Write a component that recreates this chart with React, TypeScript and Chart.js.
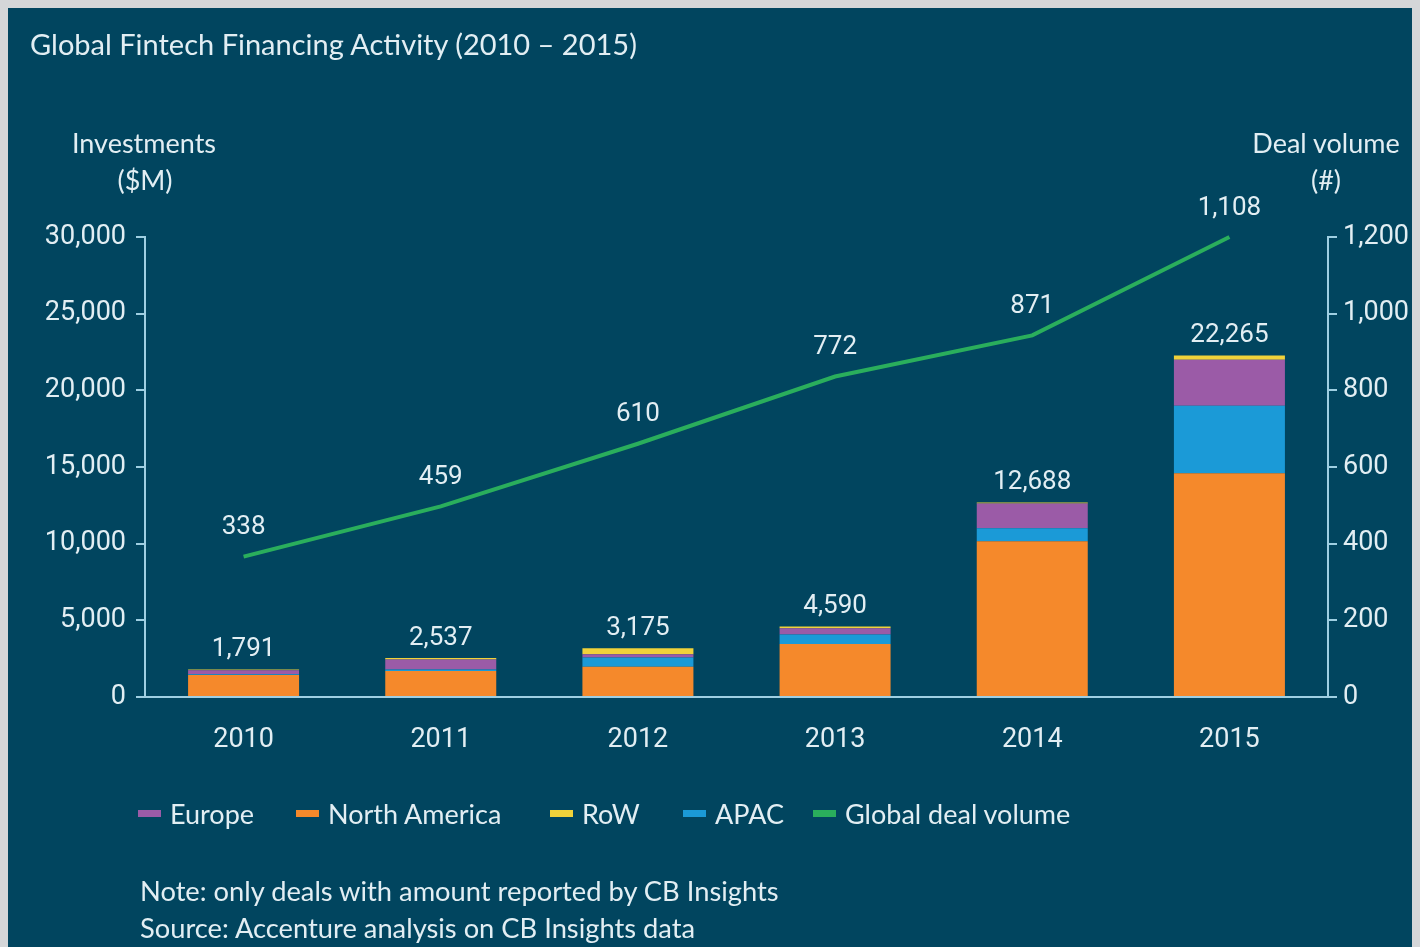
import React, { useEffect, useRef } from "react";
import { Chart, registerables } from "chart.js";

Chart.register(...registerables);

// ---- data ----
const years = ["2010", "2011", "2012", "2013", "2014", "2015"];
const northAmerica = [1440, 1700, 1980, 3460, 10150, 14600];
const apac = [50, 100, 600, 620, 850, 4400];
const europe = [260, 650, 200, 400, 1620, 3000];
const rowRegion = [41, 87, 395, 110, 68, 265];
const dealVolume = [338, 459, 610, 772, 871, 1108];
const leftTickValues = [0, 5000, 10000, 15000, 20000, 25000, 30000];
const rightTickValues = [0, 200, 400, 600, 800, 1000, 1200];
const legendOrder = ["Europe", "North America", "RoW", "APAC", "Global deal volume"];

// ---- styles ----
const BG = "#01455f";
const TEXT = "#e2eef3";
const AXIS = "#9fcfe2";
const ORANGE = "#f5892b";
const BLUE = "#1b9ad7";
const PURPLE = "#9b5ba7";
const YELLOW = "#f0d23a";
const GREEN = "#2aae5c";
const NUM_FONT = "Roboto";
const TXT_FONT = "Lato";
const LEGEND_LEFTS = [138, 296, 550, 683, 813];

const colorOf: Record<string, string> = {
  Europe: PURPLE,
  "North America": ORANGE,
  RoW: YELLOW,
  APAC: BLUE,
  "Global deal volume": GREEN,
};

const fmt = (v: number) => Number(v).toLocaleString("en-US");

const valueLabels = {
  id: "valueLabels",
  afterDatasetsDraw(chart: any) {
    const ctx = chart.ctx;
    ctx.save();
    ctx.font = `26px ${NUM_FONT}`;
    ctx.fillStyle = TEXT;
    ctx.textAlign = "center";
    ctx.textBaseline = "middle";
    const topMeta = chart.getDatasetMeta(3);
    years.forEach((_, i) => {
      const total = northAmerica[i] + apac[i] + europe[i] + rowRegion[i];
      const el = topMeta.data[i];
      if (el) ctx.fillText(fmt(total), el.x, el.y - 20);
    });
    const lineMeta = chart.getDatasetMeta(4);
    lineMeta.data.forEach((pt: any, i: number) => {
      ctx.fillText(fmt(dealVolume[i]), pt.x, pt.y - 29);
    });
    ctx.restore();
  },
};

export default function App() {
  const ref = useRef<HTMLCanvasElement | null>(null);

  useEffect(() => {
    document.body.style.margin = "8px";
    document.body.style.backgroundColor = "#d4d6d8";
    document.body.style.overflow = "hidden";
    if (!ref.current) return;
    const tickFont = { family: NUM_FONT, size: 27 };
    const chart = new Chart(ref.current, {
      type: "bar",
      data: {
        labels: years,
        datasets: [
          { label: "North America", data: northAmerica, backgroundColor: ORANGE, borderWidth: 0, yAxisID: "y", stack: "inv" },
          { label: "APAC", data: apac, backgroundColor: BLUE, borderWidth: 0, yAxisID: "y", stack: "inv" },
          { label: "Europe", data: europe, backgroundColor: PURPLE, borderWidth: 0, yAxisID: "y", stack: "inv" },
          { label: "RoW", data: rowRegion, backgroundColor: YELLOW, borderWidth: 0, yAxisID: "y", stack: "inv" },
          {
            type: "line",
            label: "Global deal volume",
            data: dealVolume,
            borderColor: GREEN,
            backgroundColor: GREEN,
            borderWidth: 4,
            pointRadius: 0,
            tension: 0,
            yAxisID: "y2",
            order: -1,
            clip: false,
          } as any,
        ],
      },
      options: {
        animation: false,
        responsive: true,
        maintainAspectRatio: false,
        layout: { padding: { top: 229, left: 0, right: 0, bottom: 0 } },
        datasets: { bar: { barPercentage: 0.563, categoryPercentage: 1 } },
        plugins: { legend: { display: false }, tooltip: { enabled: false }, title: { display: false } },
        scales: {
          x: {
            type: "category",
            stacked: true,
            offset: true,
            grid: { display: false },
            border: { display: true, color: AXIS, width: 2 },
            ticks: { color: TEXT, font: tickFont, padding: 19, maxRotation: 0 },
            afterFit: (s: any) => { s.height = 250; },
          },
          y: {
            type: "linear",
            position: "left",
            stacked: true,
            min: 0,
            max: 30000,
            afterBuildTicks: (s: any) => { s.ticks = leftTickValues.map((v) => ({ value: v })); },
            ticks: { color: TEXT, font: tickFont, padding: 10, callback: (v: any) => fmt(v) },
            grid: { drawOnChartArea: false, drawTicks: true, tickLength: 9, color: AXIS, lineWidth: 2 },
            border: { display: true, color: AXIS, width: 2 },
            afterFit: (s: any) => { s.width = 137; },
          },
          y1: {
            type: "linear",
            position: "right",
            min: 0,
            max: 1200,
            afterBuildTicks: (s: any) => { s.ticks = rightTickValues.map((v) => ({ value: v })); },
            ticks: { color: TEXT, font: tickFont, padding: 6, callback: (v: any) => fmt(v) },
            grid: { drawOnChartArea: false, drawTicks: true, tickLength: 9, color: AXIS, lineWidth: 2 },
            border: { display: true, color: AXIS, width: 2 },
            afterFit: (s: any) => { s.width = 92; },
          },
          y2: {
            type: "linear",
            display: false,
            min: 0,
            max: Math.max(...dealVolume),
          },
        },
      } as any,
      plugins: [valueLabels],
    });
    return () => chart.destroy();
  }, []);

  const txt = (content: string, x: number, cy: number, size: number, align: "left" | "center" = "left") => {
    const style: React.CSSProperties = {
      position: "absolute",
      top: cy - 8 - 20,
      height: 40,
      lineHeight: "40px",
      fontSize: size,
      fontFamily: TXT_FONT,
      color: TEXT,
      whiteSpace: "nowrap",
    };
    if (align === "left") {
      style.left = x - 8;
    } else {
      style.left = x - 8 - 200;
      style.width = 400;
      style.textAlign = "center";
    }
    return <div style={style}>{content}</div>;
  };

  return (
    <div style={{ position: "relative", width: 1412, height: 939, background: BG, overflow: "hidden" }}>
      <div style={{ position: "absolute", left: 0, top: 0, width: 1412, height: 939 }}>
        <canvas ref={ref} />
      </div>
      {txt("Global Fintech Financing Activity (2010 – 2015)", 30, 44, 29)}
      {txt("Investments", 144, 143, 27, "center")}
      {txt("($M)", 145, 180, 27, "center")}
      {txt("Deal volume", 1326, 143, 27, "center")}
      {txt("(#)", 1326, 180, 27, "center")}
      {legendOrder.map((name, i) => (
        <div
          key={name}
          style={{
            position: "absolute",
            left: LEGEND_LEFTS[i] - 8,
            top: 813 - 8 - 20,
            height: 40,
            display: "flex",
            alignItems: "center",
            fontFamily: TXT_FONT,
            fontSize: 27,
            color: TEXT,
            whiteSpace: "nowrap",
          }}
        >
          <span style={{ display: "inline-block", width: 23, height: 7, background: colorOf[name], marginRight: 9 }} />
          <span>{name}</span>
        </div>
      ))}
      {txt("Note: only deals with amount reported by CB Insights", 140, 891, 27.3)}
      {txt("Source: Accenture analysis on CB Insights data", 140, 928, 27.3)}
    </div>
  );
}
